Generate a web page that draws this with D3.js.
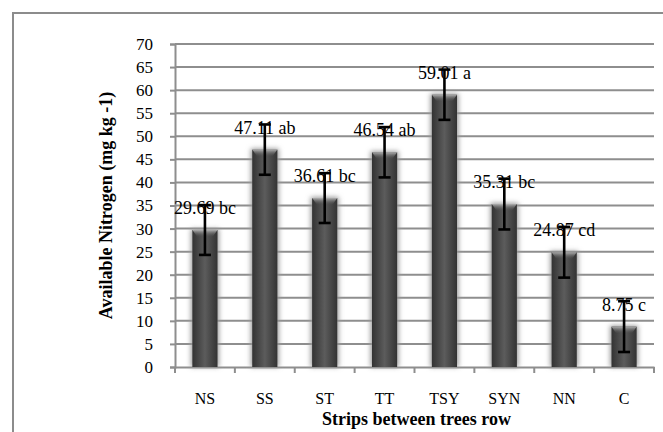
<!DOCTYPE html>
<html><head><meta charset="utf-8">
<script src="https://cdn.jsdelivr.net/npm/d3@7"></script>
<style>
html,body{margin:0;padding:0;background:#fff;}
svg{display:block;font-family:"Liberation Serif","Times New Roman",serif;}
</style></head>
<body><svg id="c" width="663" height="432"></svg>
<script>
const categories = ["NS","SS","ST","TT","TSY","SYN","NN","C"];
const values = [29.69,47.11,36.61,46.54,59.01,35.31,24.87,8.75];
const errors = [5.4,5.45,5.4,5.45,5.45,5.5,5.5,5.5];
const letters = ["bc","ab","bc","ab","a","bc","cd","c"];
const yTicks = [0,5,10,15,20,25,30,35,40,45,50,55,60,65,70];
const xTitle = "Strips between trees row";
const yTitle = "Available Nitrogen (mg kg -1)";
const FONT = "'Liberation Serif','Times New Roman',serif";

const svg = d3.select("#c");
const m = {l:175, r:654, t:44, b:367};
const x = d3.scaleBand().domain(categories).range([m.l, m.r]).padding(0);
const y = d3.scaleLinear().domain([0,70]).range([m.b, m.t]);
const bw = x.bandwidth()*0.42;

const defs = svg.append("defs");
const hg = defs.append("linearGradient").attr("id","hg").attr("x1","0").attr("x2","1").attr("y1","0").attr("y2","0");
hg.append("stop").attr("offset","0").attr("stop-color","#333");
hg.append("stop").attr("offset","0.5").attr("stop-color","#5c5c5c");
hg.append("stop").attr("offset","1").attr("stop-color","#333");
const tg = defs.append("linearGradient").attr("id","tg").attr("x1","0").attr("x2","0").attr("y1","0").attr("y2","1");
tg.append("stop").attr("offset","0").attr("stop-color","#bbb").attr("stop-opacity",0.9);
tg.append("stop").attr("offset","1").attr("stop-color","#555").attr("stop-opacity",0);
const f = defs.append("filter").attr("id","sh").attr("x","-50%").attr("y","-10%").attr("width","200%").attr("height","120%");
f.append("feGaussianBlur").attr("stdDeviation",2.5);

// outer border
svg.append("rect").attr("x",13).attr("y",13).attr("width",670).attr("height",440)
  .attr("fill","none").attr("stroke","#8c8c8c").attr("stroke-width",2);

// gridlines
svg.append("g").selectAll("line").data(yTicks.filter(d=>d>0)).join("line")
  .attr("x1",m.l).attr("x2",m.r).attr("y1",d=>y(d)).attr("y2",d=>y(d))
  .attr("stroke","#8e8e8e").attr("stroke-width",2);

// y axis
const ya = svg.append("g").attr("transform",`translate(${m.l},0)`)
  .call(d3.axisLeft(y).tickValues(yTicks).tickSize(5).tickPadding(17));
ya.attr("font-family",FONT);
ya.select(".domain").attr("stroke","#8e8e8e").attr("stroke-width",2);
ya.selectAll(".tick line").attr("stroke","#8e8e8e").attr("stroke-width",2);
ya.selectAll(".tick text").attr("font-size","17px").attr("fill","#000").attr("font-family",FONT);

// x axis
const xa = svg.append("g").attr("transform",`translate(0,${m.b})`)
  .call(d3.axisBottom(x).tickSize(0).tickPadding(26));
xa.attr("font-family",FONT);
xa.select(".domain").attr("stroke","#8e8e8e").attr("stroke-width",2);
xa.selectAll(".tick text").attr("font-size","16px").attr("fill","#000").attr("font-family",FONT);
const bounds = categories.map(c=>x(c)).concat([x(categories[categories.length-1])+x.bandwidth()]);
svg.append("g").selectAll("line").data(bounds).join("line")
  .attr("x1",d=>d).attr("x2",d=>d).attr("y1",m.b).attr("y2",m.b+6)
  .attr("stroke","#8e8e8e").attr("stroke-width",2);

// bar shadows
svg.append("g").selectAll("rect").data(values).join("rect")
  .attr("x",(d,i)=>x(categories[i])+x.bandwidth()/2-bw/2-1.5)
  .attr("y",d=>y(d)-1).attr("width",bw+3).attr("height",d=>y(0)-y(d)+1)
  .attr("fill","#9a9a9a").attr("filter","url(#sh)");
// bars
svg.append("g").selectAll("rect").data(values).join("rect")
  .attr("x",(d,i)=>x(categories[i])+x.bandwidth()/2-bw/2)
  .attr("y",d=>y(d)).attr("width",bw).attr("height",d=>y(0)-y(d))
  .attr("fill","url(#hg)");
// top bevel
svg.append("g").selectAll("path").data(values).join("path")
  .attr("d",(d,i)=>{const cx=x(categories[i])+x.bandwidth()/2, t=y(d);
    return `M${cx-bw/2},${t}L${cx+bw/2},${t}L${cx+bw/2-5},${t+7}L${cx-bw/2+5},${t+7}Z`;})
  .attr("fill","url(#tg)");

// error bars
const eg = svg.append("g").attr("stroke","#000").attr("stroke-width",2.6);
values.forEach((v,i)=>{
  const cx = x(categories[i])+x.bandwidth()/2;
  const hi = y(v+errors[i]), lo = y(v-errors[i]);
  eg.append("line").attr("x1",cx).attr("x2",cx).attr("y1",hi).attr("y2",lo);
  eg.append("line").attr("x1",cx-6).attr("x2",cx+6).attr("y1",hi).attr("y2",hi);
  eg.append("line").attr("x1",cx-6).attr("x2",cx+6).attr("y1",lo).attr("y2",lo);
});

// data labels
svg.append("g").attr("font-family",FONT).selectAll("text").data(values).join("text")
  .attr("x",(d,i)=>x(categories[i])+x.bandwidth()/2)
  .attr("y",d=>y(d)-16)
  .attr("text-anchor","middle").attr("font-size","18px").attr("fill","#000")
  .text((d,i)=>d.toFixed(2)+" "+letters[i]);

// titles
svg.append("text").attr("font-family",FONT).attr("x",(m.l+m.r)/2+2).attr("y",425).attr("text-anchor","middle")
  .attr("font-size","18px").attr("font-weight","bold").text(xTitle);
svg.append("text").attr("font-family",FONT).attr("transform",`translate(112,${(m.t+m.b)/2}) rotate(-90)`)
  .attr("text-anchor","middle").attr("font-size","18px").attr("font-weight","bold").text(yTitle);
</script></body></html>
